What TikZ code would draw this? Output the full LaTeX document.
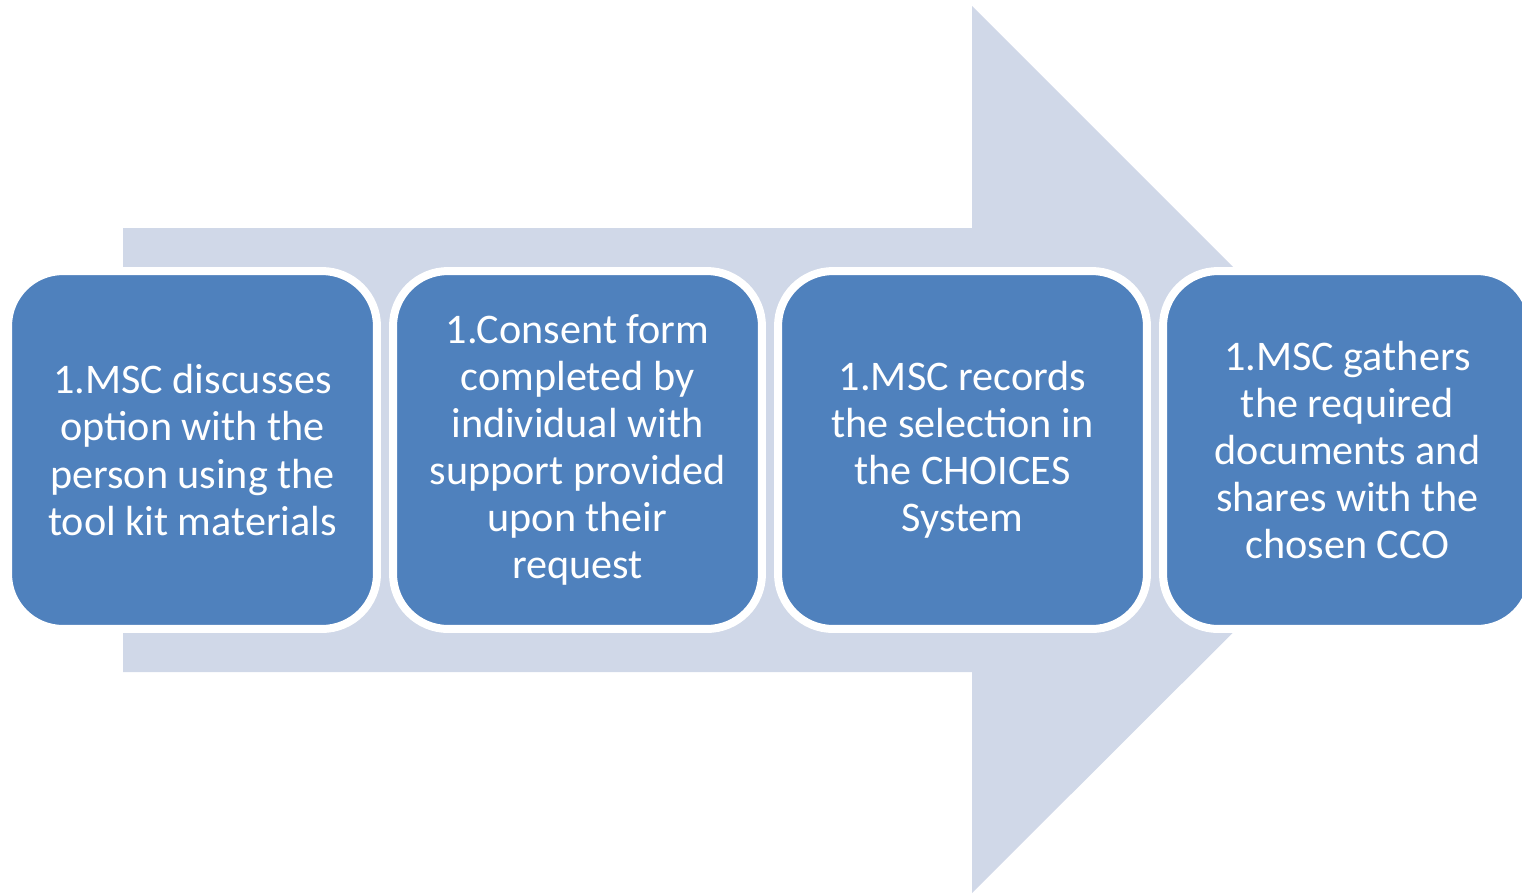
\documentclass[tikz,border=0pt]{standalone}
\usepackage{fontspec}
\setmainfont{Carlito}
\definecolor{stepblue}{HTML}{4F81BD}
\definecolor{arrowgrey}{HTML}{D0D8E8}
\begin{document}
\begin{tikzpicture}[
  x=0.02cm, y=-0.02cm,
  stepbox/.style={rectangle, rounded corners=1.1cm, fill=stepblue, draw=white,
    line width=0.16cm, minimum width=7.38cm, minimum height=7.16cm,
    text=white, align=center, font=\fontsize{24}{26.8}\selectfont}
]
\useasboundingbox (0,0) rectangle (1522,894);
% Background arrow
\fill[arrowgrey] (123,228) -- (972,228) -- (972,6) -- (1416,450)
  -- (972,893) -- (972,672) -- (123,672) -- cycle;

% Steps
\node[stepbox] (s1) at (192.5,450) {1.MSC discusses\\option with the\\person using the\\tool kit materials};
\node[stepbox] (s2) at (577.5,450) {1.Consent form\\completed by\\individual with\\support provided\\upon their\\request};
\node[stepbox] (s3) at (962.5,450) {1.MSC records\\the selection in\\the CHOICES\\System};
\node[stepbox] (s4) at (1347.5,450) {1.MSC gathers\\the required\\documents and\\shares with the\\chosen CCO};
\end{tikzpicture}
\end{document}
